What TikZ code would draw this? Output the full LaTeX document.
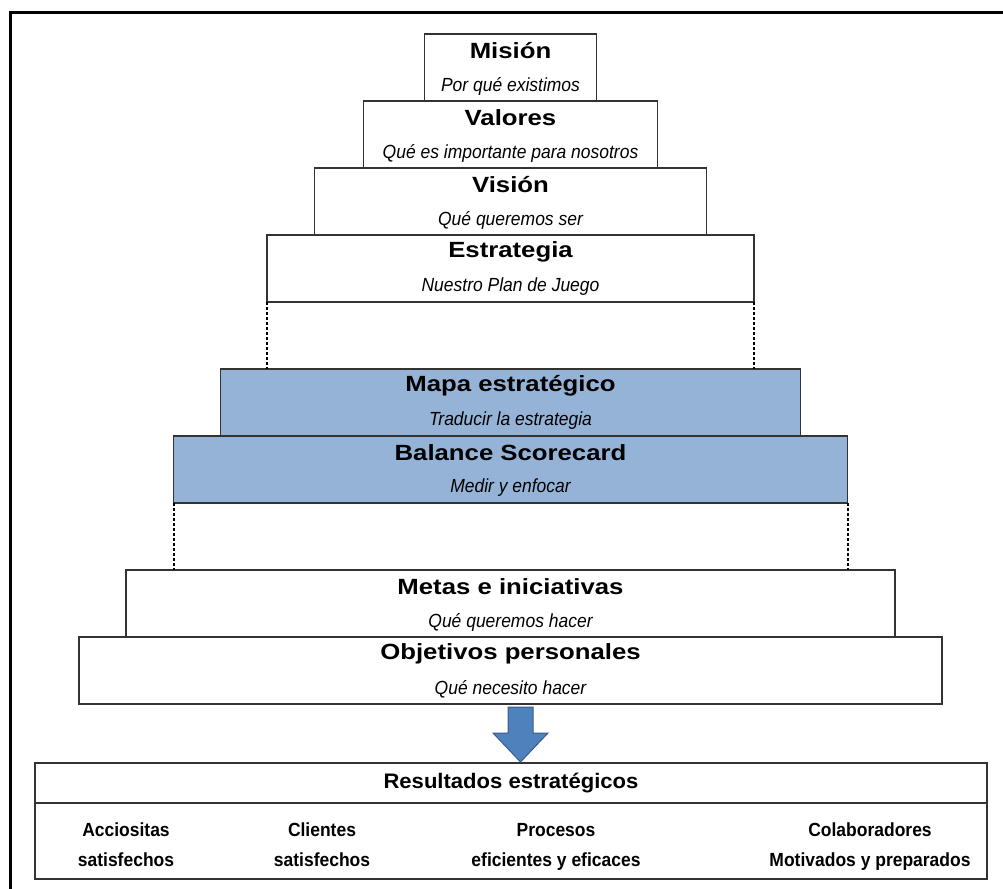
\documentclass[tikz,border=0pt]{standalone}
\usepackage{fontspec}
\setmainfont{Liberation Sans}
\usetikzlibrary{positioning}
\definecolor{azulcaja}{HTML}{95B3D7}
\definecolor{azulflecha}{HTML}{4F81BD}
\definecolor{bordeflecha}{HTML}{385D8A}
\newcommand{\titulo}[1]{{\fontsize{22}{24}\selectfont\bfseries\scalebox{1.17}[1]{#1}}}
\newcommand{\lema}[1]{{\fontsize{19}{22}\selectfont\itshape\scalebox{0.92}[1]{#1}}}
\newcommand{\restit}[1]{{\fontsize{21}{24}\selectfont\bfseries\scalebox{1.05}[1]{#1}}}
\newcommand{\resul}[1]{{\bfseries\scalebox{0.92}[1]{#1}\strut}}

\begin{document}
\begin{tikzpicture}[x=1pt, y=-1pt,
  caja/.style={draw=black!80, line width=1.5pt, inner sep=0pt, outer sep=0pt, minimum height=67pt, anchor=north},
  guia/.style={line width=2pt, dash pattern=on 2.5pt off 2.5pt},
  flecha/.style={fill=azulflecha, draw=bordeflecha, line width=1pt},
  item/.style={align=center, inner sep=0pt, font=\fontsize{19}{30}\selectfont}]
\useasboundingbox (0,0) rectangle (1003,888);
\draw[line width=3pt] (10,900) -- (10,13) -- (1010,13);

% Piramide
\foreach \n/\w/\y/\col/\tit/\sub in {mision/172/34/white/Misión/Por qué existimos,
    valores/294/101/white/Valores/Qué es importante para nosotros,
    vision/392/168/white/Visión/Qué queremos ser,
    estrategia/487/235/white/Estrategia/Nuestro Plan de Juego,
    mapa/580/369/azulcaja/Mapa estratégico/Traducir la estrategia,
    balance/674/436/azulcaja/Balance Scorecard/Medir y enfocar,
    metas/769/570/white/Metas e iniciativas/Qué queremos hacer,
    objetivos/863/637/white/Objetivos personales/Qué necesito hacer} {
    \node[caja, fill=\col, minimum width=\w*1pt] (\n) at (510.5,\y) {};
    \node (\n-t) at ([yshift=-17pt]\n.north) {\titulo{\tit}};
    \node (\n-s) at ([yshift=-52pt]\n.north) {\lema{\sub}};
}

% Guias punteadas
\draw[guia] (estrategia.south west) -- (estrategia.south west |- mapa.north);
\draw[guia] (estrategia.south east) -- (estrategia.south east |- mapa.north);
\draw[guia] (balance.south west) -- (balance.south west |- metas.north);
\draw[guia] (balance.south east) -- (balance.south east |- metas.north);

% Resultados
\node[caja, minimum width=952pt, minimum height=40pt] (res-cab) at (511,763) {\restit{Resultados estratégicos}};
\node[caja, minimum width=952pt, minimum height=76pt] (res-cuerpo) at (res-cab.south) {};

\coordinate (cola) at (520.5,707);
\coordinate (punta) at (520.5,762);
\draw[flecha] (cola) ++(-12.5,0) -- ++(25,0) -- ++(0,26) -- ++(15,0) -- (punta) -- ++(-27.5,-29) -- ++(15,0) -- cycle;

\foreach \n/\x/\a/\b in {accionistas/126/Acciositas/satisfechos,
    clientes/322/Clientes/satisfechos,
    procesos/556/Procesos/eficientes y eficaces,
    colaboradores/870/Colaboradores/Motivados y preparados}
    \node[item] (\n) at (\x,845) {\resul{\a}\\\resul{\b}};
\end{tikzpicture}
\end{document}
